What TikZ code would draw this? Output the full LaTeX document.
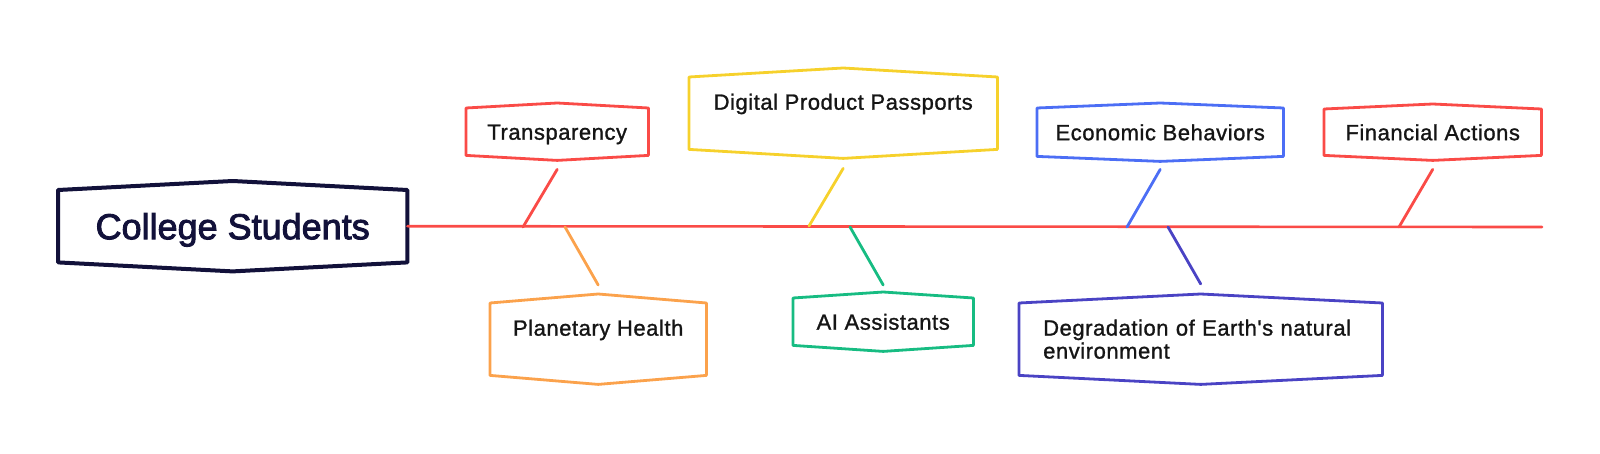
\documentclass[tikz,border=0pt]{standalone}
\usepackage{fontspec}
\setmainfont{Liberation Sans}
\newfontfamily\labfont{Liberation Sans}[FakeBold=1.2, LetterSpace=2.5]
\newfontfamily\titlefont{Liberation Sans}[FakeBold=2.5]
\usetikzlibrary{calc}
\definecolor{cred}{HTML}{FA4B47}
\definecolor{cyellow}{HTML}{F6D12C}
\definecolor{corange}{HTML}{FBA24C}
\definecolor{cgreen}{HTML}{17BC82}
\definecolor{cblue}{HTML}{4C6EF5}
\definecolor{cindigo}{HTML}{4A43C4}
\definecolor{cnavy}{HTML}{12113A}
\definecolor{ctext}{HTML}{151515}
\tikzset{
  box/.style={anchor=north west, inner sep=0pt, text=ctext,
    font=\labfont\fontsize{22}{23}\selectfont},
  oneline/.style={text height=16pt, text depth=0pt},
  boxline/.style={line width=2.8pt, line join=round, line cap=round},
  conn/.style={line width=2.8pt, line cap=round},
  spine/.style={line width=2.6pt, line cap=round, cred}
}
\newcommand\skbox[3]{%
  \draw[boxline,#2] (#1.north west) -- ([yshift=#3]#1.north)
    -- (#1.north east) -- (#1.south east)
    -- ([yshift=-#3]#1.south) -- (#1.south west) -- cycle;}
\begin{document}
\begin{tikzpicture}[x=1pt,y=-1pt]
\useasboundingbox (0,0) rectangle (1600,454);
% nodes
\node[box, minimum width=349pt, minimum height=72pt, text=cnavy,
  text height=26pt, text depth=0pt,
  font=\titlefont\fontsize{36}{40}\selectfont] (cs) at (58,190) {College Students};
\node[box, oneline, minimum width=182pt, minimum height=47pt] (tr) at (466,108) {Transparency};
\node[box, align=center, minimum width=308pt, minimum height=72pt] (dp) at (689,77) {Digital Product Passports\\\mbox{}};
\node[box, align=center, minimum width=216pt, minimum height=72pt] (pl) at (490,303) {Planetary Health\\\mbox{}};
\node[box, oneline, minimum width=180pt, minimum height=47pt] (ai) at (793,298) {AI Assistants};
\node[box, oneline, minimum width=246pt, minimum height=48pt] (eb) at (1037,108) {Economic Behaviors};
\node[box, minimum width=363pt, minimum height=72pt, align=left, text width=315pt,
  inner xsep=24pt] (dg) at (1019,303) {Degradation of Earth's natural\\environment};
\node[box, oneline, minimum width=217pt, minimum height=46pt] (fa) at (1324,109) {Financial Actions};
% boxes
\skbox{cs}{cnavy,line width=4pt}{9pt}
\skbox{tr}{cred}{5pt}
\skbox{dp}{cyellow}{9pt}
\skbox{pl}{corange}{9pt}
\skbox{ai}{cgreen}{6pt}
\skbox{eb}{cblue}{5pt}
\skbox{dg}{cindigo}{9pt}
\skbox{fa}{cred}{5pt}
% spine
\coordinate (end) at (1542,227);
\coordinate (s1) at (523,227);
\coordinate (s2) at (565,227);
\coordinate (s3) at (809,226);
\coordinate (s4) at (850,227);
\coordinate (s5) at (1127,227);
\coordinate (s6) at (1168,227);
\coordinate (s7) at (1399,227);
\draw[spine] (cs.east) -- (end);
% connectors
\draw[conn,cred] ($(tr.south)+(0,14)$) -- (s1);
\draw[conn,corange] (s2) -- ($(pl.north)+(0,-18)$);
\draw[conn,cyellow] ($(dp.south)+(0,19)$) -- (s3);
\draw[conn,cgreen] (s4) -- ($(ai.north)+(0,-13)$);
\draw[conn,cblue] ($(eb.south)+(0,13)$) -- (s5);
\draw[conn,cindigo] (s6) -- ($(dg.north)+(0,-19)$);
\draw[conn,cred] ($(fa.south)+(0,14)$) -- (s7);
\end{tikzpicture}
\end{document}
